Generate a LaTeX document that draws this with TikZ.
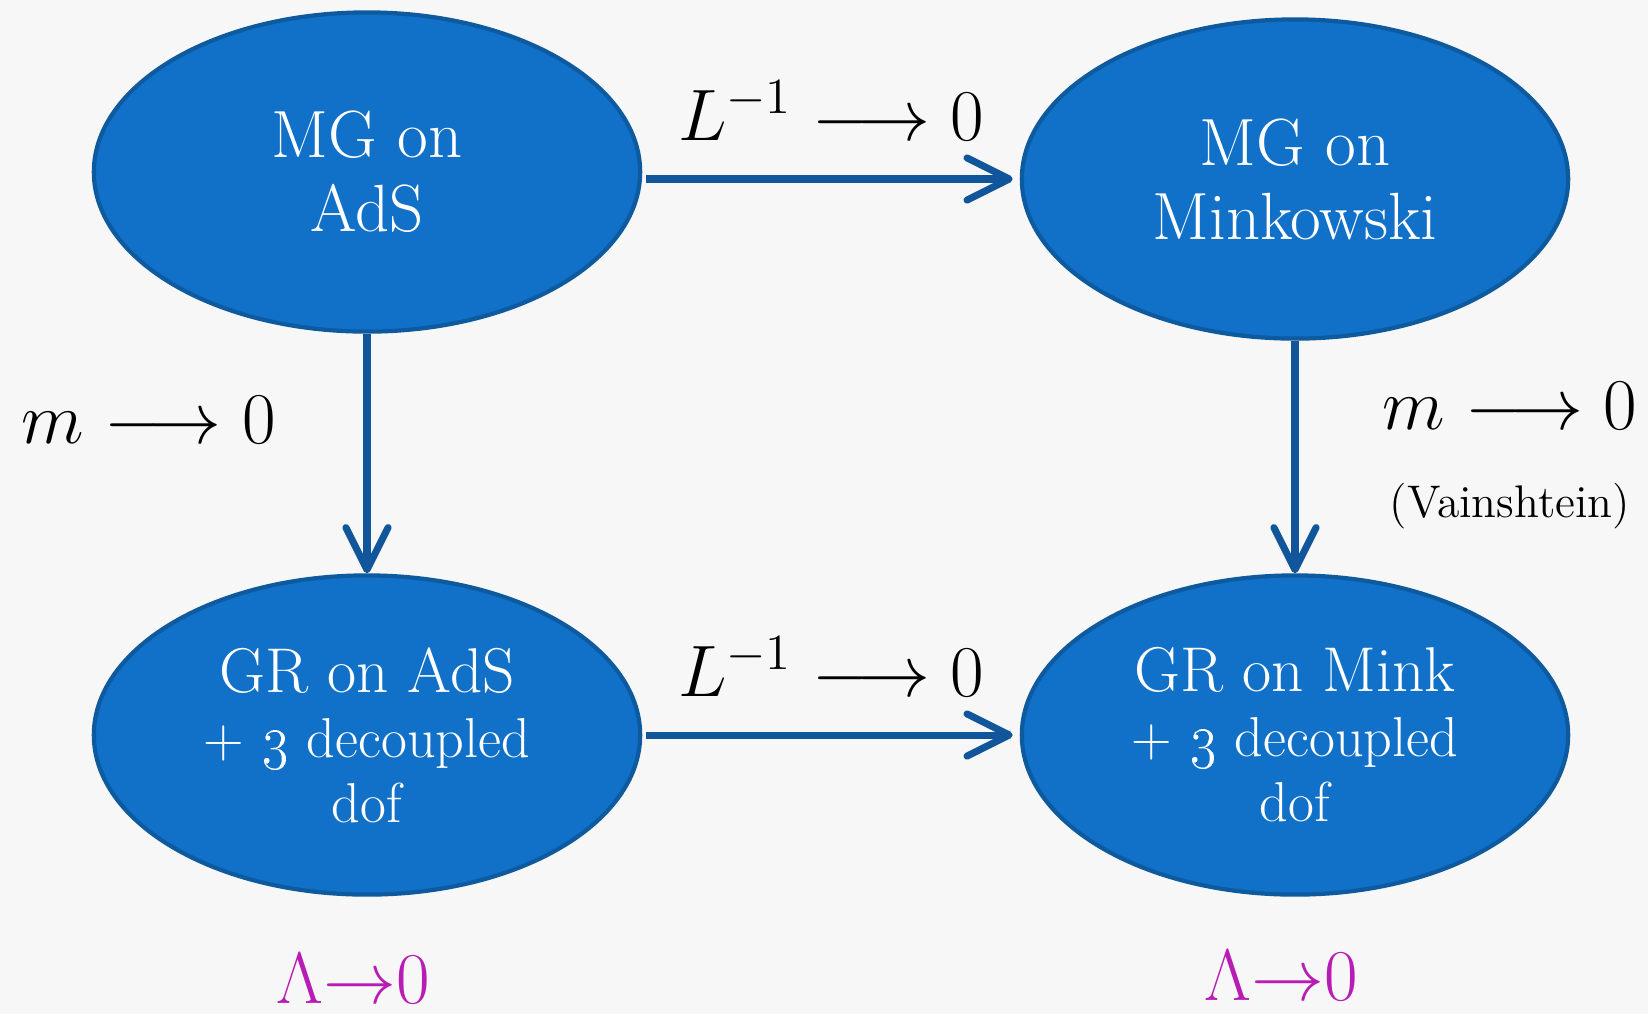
\documentclass[tikz,border=0pt]{standalone}
\usetikzlibrary{shapes.geometric,arrows.meta,positioning}

\definecolor{ovalfill}{HTML}{1170C8}
\definecolor{ovaledge}{HTML}{0E5A9E}
\definecolor{arrowblue}{HTML}{11569A}
\definecolor{limitpink}{HTML}{B71DB5}

\tikzset{
  theory/.style={ellipse, draw=ovaledge, line width=1.2pt, fill=ovalfill,
    text=white, align=center, minimum width=5.46cm, minimum height=3.19cm,
    inner sep=0pt},
  link/.style={draw=arrowblue, line width=2pt,
    -{Straight Barb[length=12pt,width=12pt,round]}},
  limit/.style={inner sep=0pt, font=\fontsize{22}{26}\selectfont},
  lambda/.style={inner sep=0pt, text=limitpink, font=\fontsize{20}{22}\selectfont},
}

\begin{document}
\begin{tikzpicture}[x=0.01cm, y=-0.01cm]
    \fill[black!3] (0,0) rectangle (1648,1014);
    \useasboundingbox (0,0) rectangle (1648,1014);

    % Teorias
    \node[theory, font=\fontsize{19}{21}\selectfont] (mgads) at (367,172) {MG on\\AdS};
    \node[theory, font=\fontsize{19}{21}\selectfont] (mgmink) at (1295,179) {MG on\\Minkowski};
    \node[theory, font=\fontsize{16}{18.5}\selectfont] (grads) at (367,735)
        {{\fontsize{18}{19}\selectfont GR on AdS}\\+ \oldstylenums{3} decoupled\\dof};
    \node[theory, font=\fontsize{16}{18.5}\selectfont] (grmink) at (1295,735)
        {{\fontsize{18}{19}\selectfont GR on Mink}\\+ \oldstylenums{3} decoupled\\dof};

    % Limites L^{-1} -> 0
    \draw[link, shorten <=1pt, shorten >=2pt] (mgads.east |- mgmink.west) -- (mgmink.west)
        node[limit, midway, above=10pt] (lup) {$L^{-1}\longrightarrow 0$};
    \draw[link, shorten <=1pt, shorten >=2pt] (grads) -- (grmink)
        node[limit, midway, above=10pt] (ldown) {$L^{-1}\longrightarrow 0$};

    % Limites m -> 0
    \draw[link] (mgads) -- (grads)
        node[limit, pos=0.36, left=25pt] (mleft) {$m\longrightarrow 0$};
    \draw[link] (mgmink) -- (grmink)
        node[limit, pos=0.28, right=24pt] (mright) {$m\longrightarrow 0$};
    \node[below=14pt of mright, inner sep=0pt, font=\fontsize{13}{15}\selectfont] (vain) {(Vainshtein)};

    % Lambda -> 0
    \node[lambda, below=16pt of grads, xshift=-4pt] (lamads) {$\Lambda{\to}0$};
    \node[lambda, below=15pt of grmink, xshift=-4pt] (lammink) {$\Lambda{\to}0$};
\end{tikzpicture}
\end{document}
